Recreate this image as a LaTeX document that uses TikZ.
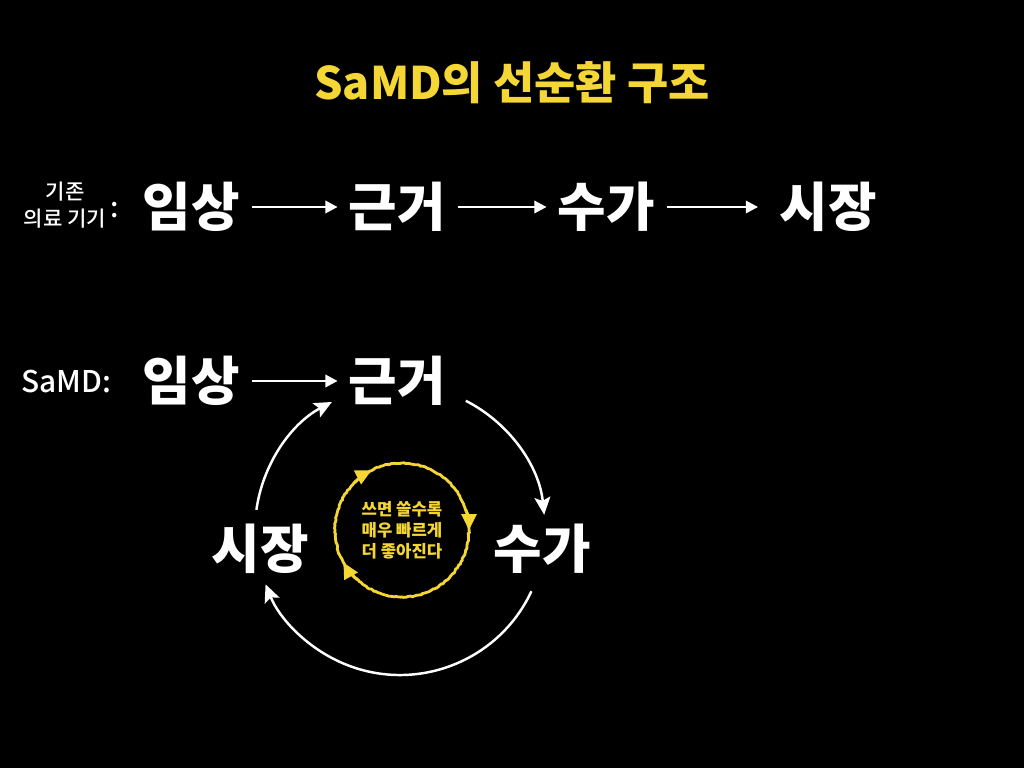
\documentclass[tikz,border=0pt]{standalone}
\usepackage{fontspec}
\setmainfont{Noto Sans CJK KR}
\newfontfamily\midfont{Noto Sans CJK KR Medium}
\usetikzlibrary{arrows.meta, calc, decorations.pathmorphing}
\definecolor{samdYellow}{HTML}{F4D734}

\begin{document}
\begin{tikzpicture}[x=0.02cm, y=0.02cm,
			headline/.style={font=\fontsize{25.5}{30}\selectfont\bfseries, text=samdYellow},
			word/.style={font=\fontsize{30}{36}\selectfont\bfseries, text=white, inner sep=0pt},
			rowlabel/.style={text=white, align=center, inner sep=0pt},
			flow/.style={-{Triangle[length=7pt, width=7pt]}, white, line width=1.5pt,
				shorten <=7pt, shorten >=6pt},
			loopflow/.style={-{Stealth[length=10pt, width=9pt, inset=2pt]}, white, line width=1.4pt},
			ring/.style={samdYellow, line width=1.6pt, decorate,
				decoration={random steps, segment length=1.2pt, amplitude=0.35pt}},
			ringtip/.style={samdYellow, line width=1.6pt, -{Triangle[length=9pt, width=8.5pt]}}
			]
			
			\fill[black] (0,0) rectangle (1024,768);
			
			\node[headline] (title) at (512,685) {SaMD의 선순환 구조};
			
			% existing medical devices
			\node[rowlabel, font=\fontsize{12}{14}\selectfont\midfont] (oldlabel) at (65,563)
			{기존\\의료 기기\rlap{\raisebox{5pt}{\fontsize{16}{16}\selectfont\,:}}};
			
			\node[word] (imsangA) at (191,561) {임상};
			\node[word] (geungeA) at (397,561) {근거};
			\node[word] (sugaA) at (606,561) {수가};
			\node[word] (sijangA) at (828,561) {시장};
			
			\draw[flow] (imsangA) -- (geungeA);
			\draw[flow] (geungeA) -- (sugaA);
			\draw[flow, shorten >=12pt] (sugaA) -- (sijangA);
			
			% SaMD
			\node[rowlabel, font=\fontsize{17}{20}\selectfont\midfont] (samdlabel) at (66,386) {SaMD:};
			
			\node[word] (imsangB) at (191,387) {임상};
			\node[word] (geungeB) at (397,387) {근거};
			\node[word] (sijangB) at (260,219) {시장};
			\node[word] (sugaB) at (542,219) {수가};
			
			\draw[flow] (imsangB) -- (geungeB);
			
			\coordinate (hub) at (400,238);
			\draw[loopflow] ($(hub)+(63:145)$) arc[start angle=63, end angle=6, radius=145];
			\draw[loopflow] ($(hub)+(-25:145)$) arc[start angle=-25, end angle=-158, radius=145];
			\draw[loopflow] ($(hub)+(172:145)$) arc[start angle=172, end angle=118, radius=145];
			
			% inner ring
			\coordinate (core) at (402,238);
			\draw[ring] (core) circle[radius=67];
			\draw[ringtip] ($(core)+(135:67)$) arc[start angle=135, end angle=117, radius=67];
			\draw[ringtip] ($(core)+(18:67)$) arc[start angle=18, end angle=0, radius=67];
			\draw[ringtip] ($(core)+(228:67)$) arc[start angle=228, end angle=209, radius=67];
			
			\node[font=\fontsize{9.5}{12}\selectfont\bfseries, text=samdYellow, align=center] (motto)
			at (core) {쓰면 쓸수록\\매우 빠르게\\더 좋아진다};
			
		\end{tikzpicture}
\end{document}
